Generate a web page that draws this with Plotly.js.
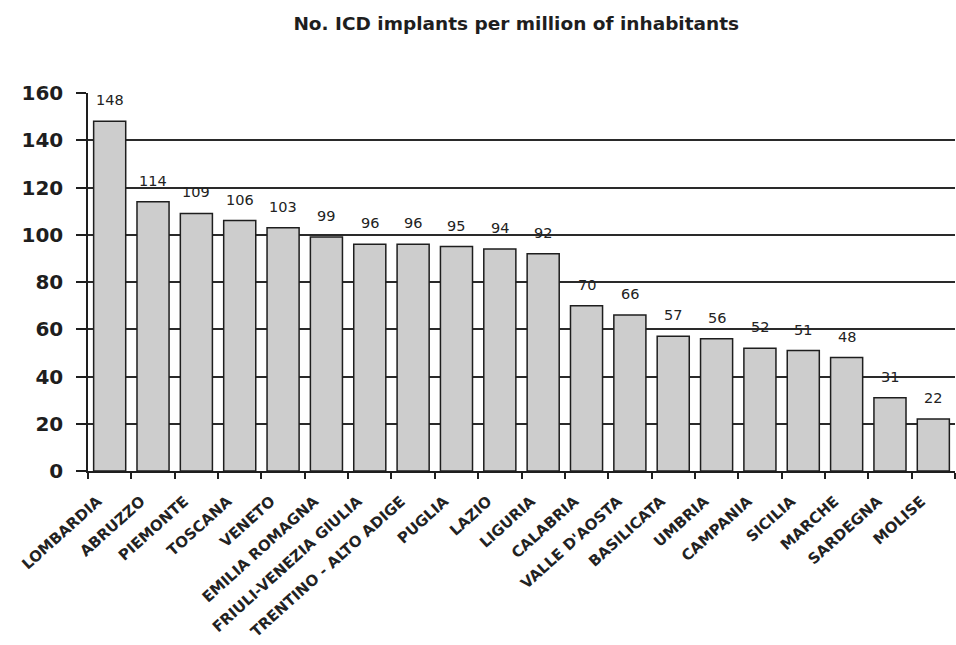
<!DOCTYPE html>
<html>
<head>
<meta charset="utf-8">
<script src="https://cdn.plot.ly/plotly-3.0.1.min.js"></script>
<style>
  html, body { margin: 0; padding: 0; background: #ffffff; }
  #chart { width: 956px; height: 645px; }
</style>
</head>
<body>
<div id="chart"></div>
<script>
// Italian regions, ordered by ICD implant rate
const regions = [
  "LOMBARDIA", "ABRUZZO", "PIEMONTE", "TOSCANA", "VENETO",
  "EMILIA ROMAGNA", "FRIULI-VENEZIA GIULIA", "TRENTINO - ALTO ADIGE", "PUGLIA", "LAZIO",
  "LIGURIA", "CALABRIA", "VALLE D'AOSTA", "BASILICATA", "UMBRIA",
  "CAMPANIA", "SICILIA", "MARCHE", "SARDEGNA", "MOLISE"
];

// ICD implants per million inhabitants
const implantsPerMillion = [
  148, 114, 109, 106, 103,
  99, 96, 96, 95, 94,
  92, 70, 66, 57, 56,
  52, 51, 48, 31, 22
];

const yTicks = [0, 20, 40, 60, 80, 100, 120, 140, 160];

const trace = {
  type: "bar",
  x: regions,
  y: implantsPerMillion,
  marker: {
    color: "#cdcdcd",
    line: { color: "#1e1e1e", width: 1.5 }
  },
  hoverinfo: "x+y"
};

// value labels above each bar
const valueLabels = regions.map((r, i) => ({
  x: r,
  y: implantsPerMillion[i],
  text: String(implantsPerMillion[i]),
  showarrow: false,
  xanchor: "center",
  yanchor: "middle",
  yshift: 21,
  font: { family: "DejaVu Sans, Arial, sans-serif", size: 14.5, color: "#222222" }
}));

const layout = {
  width: 956,
  height: 645,
  margin: { l: 88, r: 1, t: 93, b: 174, pad: 0 },
  paper_bgcolor: "#ffffff",
  plot_bgcolor: "#ffffff",
  showlegend: false,
  bargap: 0.26,
  title: {
    text: "<b>No. ICD implants per million of inhabitants</b>",
    font: { family: "DejaVu Sans, Arial, sans-serif", size: 18.5, color: "#1e1e1e" },
    x: 0.54,
    xanchor: "center",
    y: 0.963,
    yanchor: "middle"
  },
  xaxis: {
    type: "category",
    automargin: false,
    showgrid: false,
    showline: true,
    linecolor: "#1e1e1e",
    linewidth: 1.5,
    ticks: "outside",
    tickson: "boundaries",
    ticklen: 6,
    tickwidth: 1.5,
    tickcolor: "#1e1e1e",
    tickangle: -42,
    ticklabelstandoff: 14,
    ticklabelshift: -12,
    tickfont: { family: "DejaVu Sans, Arial, sans-serif", size: 15, color: "#222222", weight: "bold" }
  },
  yaxis: {
    range: [0, 160],
    tickvals: yTicks,
    ticktext: yTicks.map(String),
    automargin: false,
    showgrid: true,
    gridcolor: "#2a2a2a",
    gridwidth: 1.5,
    zeroline: false,
    showline: true,
    linecolor: "#1e1e1e",
    linewidth: 1.5,
    ticks: "outside",
    ticklen: 10,
    tickwidth: 1.5,
    tickcolor: "#1e1e1e",
    ticklabelstandoff: 9,
    tickfont: { family: "DejaVu Sans, Arial, sans-serif", size: 20, color: "#1e1e1e", weight: "bold" }
  },
  annotations: valueLabels
};

Plotly.newPlot("chart", [trace], layout, { displayModeBar: false, responsive: false });
</script>
</body>
</html>
